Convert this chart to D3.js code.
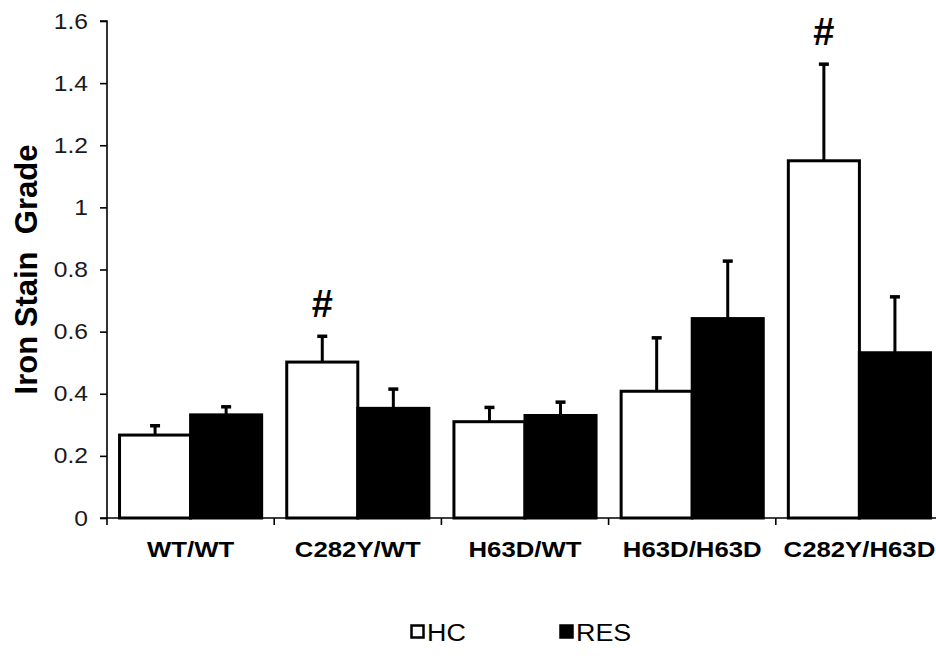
<!DOCTYPE html>
<html>
<head>
<meta charset="utf-8">
<script src="https://cdn.jsdelivr.net/npm/d3@7"></script>
<style>
  body { margin: 0; background: #fff; }
  svg { font-family: "Liberation Sans", Arial, sans-serif; }
</style>
</head>
<body>
<div id="chart"></div>
<script>
// Data
var groups = ["WT/WT", "C282Y/WT", "H63D/WT", "H63D/H63D", "C282Y/H63D"];
var series = ["HC", "RES"];
var hcMean = [0.267, 0.502, 0.31, 0.408, 1.15];
var hcErr = [0.03, 0.083, 0.046, 0.172, 0.311];
var resMean = [0.332, 0.353, 0.33, 0.642, 0.532];
var resErr = [0.026, 0.062, 0.043, 0.185, 0.18];
var marked = [false, true, false, false, true]; // "#" over HC bar
var yTicks = [0, 0.2, 0.4, 0.6, 0.8, 1, 1.2, 1.4, 1.6];

var width = 936, height = 656;
var stretch = 1.12; // text in the picture is a bit wide

var svg = d3.select("#chart").append("svg")
    .attr("width", width)
    .attr("height", height);

// Scales
var x0 = d3.scaleBand()
    .domain(groups)
    .range([107, 943])
    .paddingInner(0.15)
    .paddingOuter(0.075);

var x1 = d3.scaleBand()
    .domain(series)
    .range([0, x0.bandwidth()]);

var y = d3.scaleLinear()
    .domain([0, 1.6])
    .range([518, 21]);

// Build rows
var rows = [];
groups.forEach(function(g, i) {
    rows.push({ group: g, key: "HC", mean: hcMean[i], err: hcErr[i], mark: marked[i] });
    rows.push({ group: g, key: "RES", mean: resMean[i], err: resErr[i], mark: false });
});

// Y axis
var yAxis = svg.append("g")
    .attr("transform", "translate(107,0)")
    .call(d3.axisLeft(y).tickValues(yTicks).tickSize(7).tickPadding(10)
        .tickFormat(function(d) { return d3.format("")(d); }));
yAxis.select(".domain").attr("stroke", "#000").attr("stroke-width", 1.6)
    .attr("d", "M-7," + y(1.6) + "H0V" + y(0));
yAxis.selectAll(".tick line").attr("stroke", "#000").attr("stroke-width", 1.6);
yAxis.selectAll(".tick text")
    .attr("fill", "#1a1a1a")
    .attr("transform", "scale(" + stretch + ",1)")
    .style("font-family", "'Liberation Sans', Arial, sans-serif")
    .style("font-size", "22px");

// Error bars (drawn under the bars)
var err = svg.append("g");
rows.forEach(function(d) {
    var cx = x0(d.group) + x1(d.key) + x1.bandwidth() / 2;
    err.append("line")
        .attr("x1", cx).attr("x2", cx)
        .attr("y1", y(d.mean)).attr("y2", y(d.mean + d.err))
        .attr("stroke", "#000").attr("stroke-width", 3);
    err.append("line")
        .attr("x1", cx - 5).attr("x2", cx + 5)
        .attr("y1", y(d.mean + d.err)).attr("y2", y(d.mean + d.err))
        .attr("stroke", "#000").attr("stroke-width", 3.5);
});

// Bars
svg.append("g")
    .selectAll("rect")
    .data(rows)
    .enter()
    .append("rect")
    .attr("x", function(d) { return x0(d.group) + x1(d.key); })
    .attr("y", function(d) { return y(d.mean); })
    .attr("width", x1.bandwidth())
    .attr("height", function(d) { return y(0) - y(d.mean); })
    .attr("fill", function(d) { return d.key === "HC" ? "#fff" : "#000"; })
    .attr("stroke", "#000")
    .attr("stroke-width", 3);

// "#" marks
svg.append("g")
    .selectAll("text")
    .data(rows.filter(function(d) { return d.mark; }))
    .enter()
    .append("text")
    .attr("transform", function(d) {
        var cx = x0(d.group) + x1(d.key) + x1.bandwidth() / 2;
        return "translate(" + cx + "," + (y(d.mean + d.err) - 19) + ")";
    })
    .attr("text-anchor", "middle")
    .style("font-size", "38px")
    .style("font-weight", "bold")
    .text("#");

// X axis
var xAxis = svg.append("g")
    .attr("transform", "translate(0," + y(0) + ")");
xAxis.append("line")
    .attr("x1", 100).attr("x2", 943)
    .attr("stroke", "#000").attr("stroke-width", 1.6);
var bounds = groups.map(function(g) { return x0(g) - x0.step() * x0.paddingInner() / 2; });
bounds.push(x0(groups[groups.length - 1]) + x0.bandwidth() + x0.step() * x0.paddingInner() / 2);
xAxis.selectAll(".tick")
    .data(bounds)
    .enter()
    .append("line")
    .attr("x1", function(d) { return d; })
    .attr("x2", function(d) { return d; })
    .attr("y1", 0).attr("y2", 7)
    .attr("stroke", "#000").attr("stroke-width", 1.6);
xAxis.selectAll(".lab")
    .data(groups)
    .enter()
    .append("text")
    .attr("transform", function(g) {
        return "translate(" + (x0(g) + x0.bandwidth() / 2) + ",39) scale(" + stretch + ",1)";
    })
    .attr("text-anchor", "middle")
    .style("font-size", "23px")
    .style("font-weight", "bold")
    .text(function(g) { return g; });

// Y axis title
svg.append("text")
    .attr("transform", "translate(37," + y(0.8) + ") rotate(-90)")
    .attr("text-anchor", "middle")
    .style("font-size", "31px")
    .style("font-weight", "bold")
    .style("white-space", "pre")
    .text("Iron Stain  Grade");

// Legend
var legendX = [410, 559];
var legend = svg.append("g");
series.forEach(function(s, i) {
    legend.append("rect")
        .attr("x", legendX[i] + 1.5).attr("y", 625.5)
        .attr("width", 12).attr("height", 12)
        .attr("fill", s === "HC" ? "#fff" : "#000")
        .attr("stroke", "#000").attr("stroke-width", 2.5);
    legend.append("text")
        .attr("transform", "translate(" + (legendX[i] + 17) + ",641) scale(" + stretch + ",1)")
        .style("font-size", "24px")
        .text(s);
});
</script>
</body>
</html>
